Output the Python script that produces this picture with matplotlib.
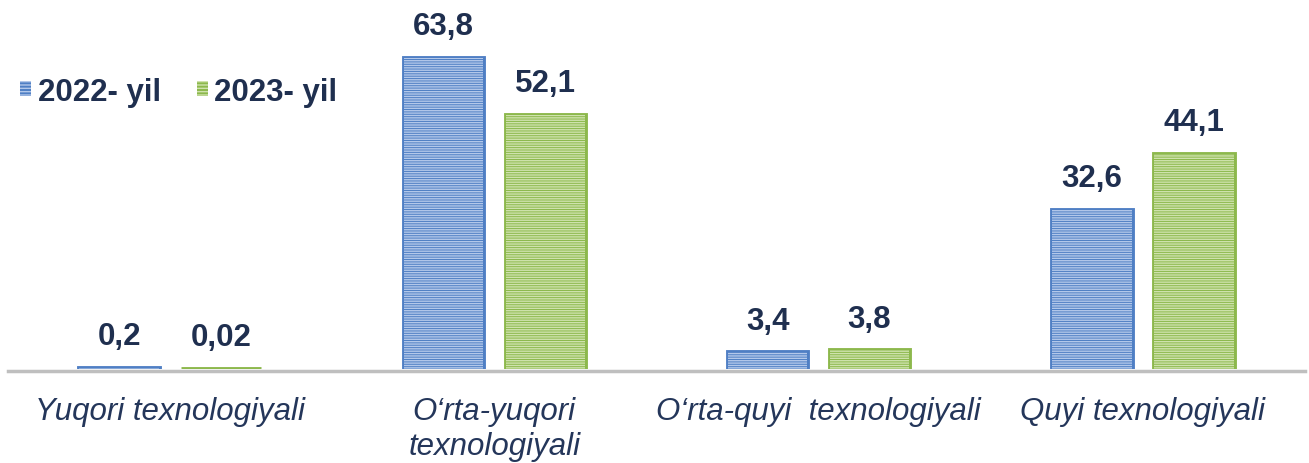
import matplotlib
matplotlib.use("Agg")
import matplotlib.pyplot as plt
from matplotlib.patches import Patch
import numpy as np

categories = ["Yuqori texnologiyali", "O\u2018rta-yuqori\ntexnologiyali",
              "O\u2018rta-quyi  texnologiyali", "Quyi texnologiyali"]
series_names = ["2022- yil", "2023- yil"]
values_2022 = [0.2, 63.8, 3.4, 32.6]
values_2023 = [0.02, 52.1, 3.8, 44.1]
labels_2022 = ["0,2", "63,8", "3,4", "32,6"]
labels_2023 = ["0,02", "52,1", "3,8", "44,1"]

blue, blue_h = "#4f7fc4", "#b3c8ea"
green, green_h = "#8cb84c", "#cfe2ad"
txt = "#1f2f4f"
lab_col = "#24365a"

plt.rcParams["font.family"] = ["Liberation Sans", "DejaVu Sans"]
plt.rcParams["hatch.linewidth"] = 1.0

fig = plt.figure(figsize=(13.09, 4.64), dpi=100)
ax = fig.add_axes([8/1309, 94/464, 1297/1309, 370/464])

x = np.arange(len(categories))
w = 0.245
off = 0.157
handles = []
for vals, labs, fc, hc, sgn, name in [(values_2022, labels_2022, blue, blue_h, -1, series_names[0]),
                                      (values_2023, labels_2023, green, green_h, 1, series_names[1])]:
    bars = ax.bar(x + sgn*off, vals, w, color=fc, edgecolor=fc, linewidth=3.5, zorder=1)
    ax.bar(x + sgn*off, vals, w, facecolor="none", edgecolor=hc, hatch="-------",
           linewidth=0, zorder=1.5)
    for b, lab in zip(bars, labs):
        ax.annotate(lab, (b.get_x() + b.get_width()/2, b.get_height()),
                    xytext=(0, 12), textcoords="offset points", ha="center", va="bottom",
                    fontsize=22.5, fontweight="bold", color=txt)
    handles.append(Patch(facecolor=fc, edgecolor=hc, hatch="-----", linewidth=0, label=name))

ax.set_xlim(-0.5, 3.5)
ax.set_ylim(0, 75.8)
for s in ["top", "right", "left"]:
    ax.spines[s].set_visible(False)
ax.spines["bottom"].set_color("#bfbfbf")
ax.spines["bottom"].set_linewidth(2.5)
ax.spines["bottom"].set_position(("outward", 1.25))
ax.set_yticks([])
ax.set_xticks(x)
ax.set_xticklabels(categories, fontsize=22.5, style="italic", color=lab_col, linespacing=1.22)
ax.tick_params(axis="x", length=0, pad=18)

leg = ax.legend(handles=handles, loc="upper left", bbox_to_anchor=(0.0095, 0.79), ncol=2,
                frameon=False, fontsize=22.5, handlelength=0.35, handleheight=0.35,
                handletextpad=0.2, columnspacing=1.15, borderaxespad=0, borderpad=0)
for t in leg.get_texts():
    t.set_fontweight("bold")
    t.set_color(txt)

fig.savefig("out.png", dpi=100)
